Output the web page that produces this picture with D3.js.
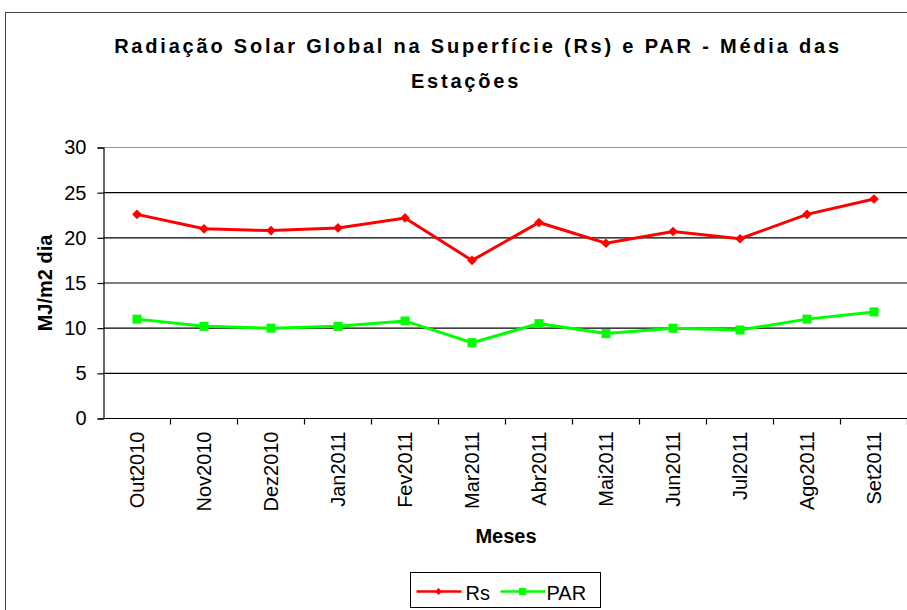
<!DOCTYPE html>
<html>
<head>
<meta charset="utf-8">
<script src="https://cdn.jsdelivr.net/npm/d3@7"></script>
<style>
	body { margin: 0; background: #fff; }
	svg text { font-family: "Liberation Sans", Arial, sans-serif; }
</style>
</head>
<body>
<svg id="chart" width="907" height="610"></svg>
<script>
var months = ["Out2010", "Nov2010", "Dez2010", "Jan2011", "Fev2011", "Mar2011",
	"Abr2011", "Mai2011", "Jun2011", "Jul2011", "Ago2011", "Set2011"];
var rsValues = [22.6, 21.0, 20.8, 21.1, 22.2, 17.5, 21.7, 19.4, 20.7, 19.9, 22.6, 24.3];
var parValues = [11.0, 10.2, 10.0, 10.2, 10.8, 8.4, 10.5, 9.4, 10.0, 9.8, 11.0, 11.8];
var yTicks = [0, 5, 10, 15, 20, 25, 30];

var svg = d3.select("#chart");

var plotLeft = 103.5, plotRight = 907.5,
	plotTop = 147.5, plotBottom = 418.5;

// outer chart border (cut by window edges)
svg.append("rect")
	.attr("x", 5.5).attr("y", 12.5)
	.attr("width", 1000).attr("height", 1000)
	.attr("fill", "none")
	.attr("stroke", "#444")
	.attr("stroke-width", 1);

var x = d3.scaleBand().domain(months).range([plotLeft, plotRight]);
var y = d3.scaleLinear().domain([0, 30]).range([plotBottom, plotTop]);

// gridlines
svg.append("g")
	.selectAll("line")
	.data(yTicks.filter(function(d){ return d > 0; }))
	.enter().append("line")
		.attr("x1", plotLeft).attr("x2", plotRight)
		.attr("y1", function(d){ return y(d); })
		.attr("y2", function(d){ return y(d); })
		.attr("stroke", function(d){ return d == 30 ? "#999" : "#000"; })
		.attr("stroke-width", 1.2);

// y axis
var yAxis = svg.append("g")
	.attr("transform", "translate(" + plotLeft + ",0)")
	.call(d3.axisLeft(y).tickValues(yTicks).tickSize(6).tickPadding(11));
yAxis.select(".domain").attr("stroke", "#000").attr("stroke-width", 1.2);
yAxis.selectAll("line").attr("stroke", "#000").attr("stroke-width", 1.2);
yAxis.selectAll("text")
	.attr("font-size", 20)
	.attr("font-family", "Liberation Sans, Arial, sans-serif")
	.attr("fill", "#000");

// x axis: ticks at band boundaries
var xAxis = svg.append("g")
	.attr("transform", "translate(0," + plotBottom + ")");
xAxis.append("line")
	.attr("x1", plotLeft).attr("x2", plotRight)
	.attr("stroke", "#000").attr("stroke-width", 1.2);
xAxis.selectAll(".tk")
	.data(months)
	.enter().append("line")
		.attr("class", "tk")
		.attr("x1", function(d){ return x(d) + x.bandwidth(); })
		.attr("x2", function(d){ return x(d) + x.bandwidth(); })
		.attr("y1", 0).attr("y2", 6)
		.attr("stroke", "#000").attr("stroke-width", 1.2);
xAxis.selectAll(".lbl")
	.data(months)
	.enter().append("text")
		.attr("class", "lbl")
		.attr("transform", function(d){
			return "translate(" + (x(d) + x.bandwidth()/2 + 7) + ",13) rotate(-90)";
		})
		.attr("text-anchor", "end")
		.attr("font-size", 20)
		.text(function(d){ return d; });

// lines
var line = d3.line()
	.x(function(d, i){ return x(months[i]) + x.bandwidth()/2; })
	.y(function(d){ return y(d); });

svg.append("path")
	.datum(parValues)
	.attr("d", line)
	.attr("fill", "none")
	.attr("stroke", "#00ff00")
	.attr("stroke-width", 3);

svg.append("g")
	.selectAll("rect")
	.data(parValues)
	.enter().append("rect")
		.attr("x", function(d, i){ return x(months[i]) + x.bandwidth()/2 - 4.5; })
		.attr("y", function(d){ return y(d) - 4.5; })
		.attr("width", 9).attr("height", 9)
		.attr("fill", "#00ff00");

svg.append("path")
	.datum(rsValues)
	.attr("d", line)
	.attr("fill", "none")
	.attr("stroke", "#ff0000")
	.attr("stroke-width", 3);

var diamond = d3.symbol().type(d3.symbolDiamond2).size(60);
svg.append("g")
	.selectAll("path")
	.data(rsValues)
	.enter().append("path")
		.attr("d", diamond)
		.attr("transform", function(d, i){
			return "translate(" + (x(months[i]) + x.bandwidth()/2) + "," + y(d) + ")";
		})
		.attr("fill", "#ff0000");

// title
var title = svg.append("text")
	.attr("text-anchor", "middle")
	.attr("font-size", 20)
	.attr("font-weight", "bold")
	.attr("letter-spacing", 2.8)
	.attr("fill", "#000");
title.append("tspan").attr("x", 478).attr("y", 53)
	.text("Radiação Solar Global na Superfície (Rs) e PAR - Média das");
title.append("tspan").attr("x", 466).attr("y", 88)
	.text("Estações");

// axis titles
svg.append("text")
	.attr("transform", "translate(52,283) rotate(-90)")
	.attr("text-anchor", "middle")
	.attr("font-size", 20)
	.attr("font-weight", "bold")
	.text("MJ/m2 dia");

svg.append("text")
	.attr("x", 506).attr("y", 543)
	.attr("text-anchor", "middle")
	.attr("font-size", 20)
	.attr("font-weight", "bold")
	.text("Meses");

// legend
var legend = svg.append("g").attr("transform", "translate(410.5,572.5)");
legend.append("rect")
	.attr("width", 190).attr("height", 35)
	.attr("fill", "#fff")
	.attr("stroke", "#000")
	.attr("stroke-width", 1);

var legendDiamond = d3.symbol().type(d3.symbolDiamond2).size(30);
var entries = [
	{ name: "Rs", color: "#ff0000", shape: "diamond", x0: 6, tx: 55 },
	{ name: "PAR", color: "#00ff00", shape: "square", x0: 90, tx: 136 }
];
entries.forEach(function(e){
	legend.append("line")
		.attr("x1", e.x0).attr("x2", e.x0 + 45)
		.attr("y1", 19).attr("y2", 19)
		.attr("stroke", e.color).attr("stroke-width", 2.5);
	if (e.shape == "diamond") {
		legend.append("path")
			.attr("d", legendDiamond)
			.attr("transform", "translate(" + (e.x0 + 22) + ",19)")
			.attr("fill", e.color);
	} else {
		legend.append("rect")
			.attr("x", e.x0 + 22 - 3.5).attr("y", 15.5)
			.attr("width", 7).attr("height", 7)
			.attr("fill", e.color);
	}
	legend.append("text")
		.attr("x", e.tx).attr("y", 27)
		.attr("font-size", 20)
		.text(e.name);
});
</script>
</body>
</html>
